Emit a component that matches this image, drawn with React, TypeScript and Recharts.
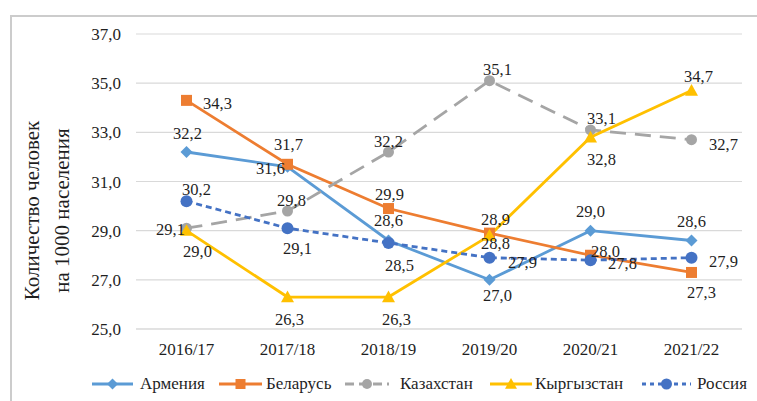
import React from "react";
import { CartesianGrid, LabelList, Legend, Line, LineChart, XAxis, YAxis } from "recharts";

const years = ["2016/17", "2017/18", "2018/19", "2019/20", "2020/21", "2021/22"];
const armenia = [32.2, 31.6, 28.6, 27.0, 29.0, 28.6];
const belarus = [34.3, 31.7, 29.9, 28.9, 28.0, 27.3];
const kazakhstan = [29.1, 29.8, 32.2, 35.1, 33.1, 32.7];
const kyrgyzstan = [29.0, 26.3, 26.3, 28.8, 32.8, 34.7];
const russia = [30.2, 29.1, 28.5, 27.9, 27.8, 27.9];
const yTicks = [25, 27, 29, 31, 33, 35, 37];

const data = years.map((year, i) => ({
  year,
  arm: armenia[i],
  bel: belarus[i],
  kaz: kazakhstan[i],
  kyr: kyrgyzstan[i],
  rus: russia[i],
}));

type Shape = "diamond" | "square" | "circle" | "triangle";

// label offsets (centre of text relative to the point) and legend slots, picked to match the original
const SERIES: {
  key: string;
  name: string;
  color: string;
  dash?: string;
  shape: Shape;
  r: number;
  offsets: [number, number][];
  legend: [number, number, number]; // icon left, icon width, text left
}[] = [
  { key: "arm", name: "Армения", color: "#5b9bd5", shape: "diamond", r: 6,
    offsets: [[1, -19], [-17, 2], [0, -20], [8, 16], [0, -19], [0, -19]], legend: [92, 41, 140] },
  { key: "bel", name: "Беларусь", color: "#ed7d31", shape: "square", r: 5.5,
    offsets: [[31, 3], [1, -20], [1, -14], [6, -14], [15, -4], [10, 20]], legend: [219, 43, 266] },
  { key: "kaz", name: "Казахстан", color: "#a5a5a5", dash: "16 9", shape: "circle", r: 5.5,
    offsets: [[-16, 1], [4, -11], [0, -11], [8, -11], [11, -11], [32, 5]], legend: [345, 44, 400] },
  { key: "kyr", name: "Кыргызстан", color: "#ffc000", shape: "triangle", r: 6.5,
    offsets: [[11, 21], [2, 22], [8, 22], [6, 8], [11, 22], [7, -14]], legend: [490, 42, 535] },
  { key: "rus", name: "Россия", color: "#4472c4", dash: "6 4", shape: "circle", r: 6,
    offsets: [[10, -12], [10, 20], [11, 23], [33, 5], [32, 3], [32, 4]], legend: [642, 49, 697] },
];

const FONT = "Liberation Serif";
const TEXT = "#1f1f1f";
const fmt = (v: number) => v.toFixed(1).replace(".", ",");

function Marker({ shape, cx, cy, r, color }: { shape: Shape; cx: number; cy: number; r: number; color: string }) {
  if (shape === "diamond")
    return <polygon points={`${cx},${cy - r} ${cx + r},${cy} ${cx},${cy + r} ${cx - r},${cy}`} fill={color} />;
  if (shape === "square") return <rect x={cx - r} y={cy - r} width={r * 2} height={r * 2} fill={color} />;
  if (shape === "triangle")
    return <polygon points={`${cx},${cy - r} ${cx + r},${cy + r * 0.8} ${cx - r},${cy + r * 0.8}`} fill={color} />;
  return <circle cx={cx} cy={cy} r={r} fill={color} />;
}

function YTitle({ viewBox }: any) {
  const cy = viewBox.y + viewBox.height / 2 + 29;
  return (
    <g fontFamily={FONT} fontSize={21} fill={TEXT}>
      <text x={viewBox.x + 32} y={cy} transform={`rotate(-90 ${viewBox.x + 32} ${cy})`} textAnchor="middle" dominantBaseline="central">
        Количество человек
      </text>
      <text x={viewBox.x + 62} y={cy} transform={`rotate(-90 ${viewBox.x + 62} ${cy})`} textAnchor="middle" dominantBaseline="central">
        на 1000 населения
      </text>
    </g>
  );
}

function LegendBox() {
  return (
    <div style={{ position: "relative", height: 42, fontFamily: FONT, fontSize: 17, color: TEXT }}>
      {SERIES.map((s) => {
        const [iconLeft, iconW, textLeft] = s.legend;
        return (
          <React.Fragment key={s.key}>
            <svg width={iconW} height={14} style={{ position: "absolute", left: iconLeft, top: 18 }}>
              <line x1={0} y1={7} x2={iconW} y2={7} stroke={s.color} strokeWidth={3} strokeDasharray={s.dash ? (s.key === "rus" ? "4 4" : "9 5") : undefined} />
              <Marker shape={s.shape} cx={iconW / 2} cy={7} r={s.r - 0.5} color={s.color} />
            </svg>
            <span style={{ position: "absolute", left: textLeft, top: 15, whiteSpace: "nowrap", lineHeight: "20px" }}>{s.name}</span>
          </React.Fragment>
        );
      })}
    </div>
  );
}

const tickStyle = { fontSize: 17, fill: TEXT, fontFamily: FONT };

export default function App() {
  return (
    <div style={{ position: "absolute", left: 0, top: 0, width: 757, height: 401, background: "#fff", fontFamily: FONT }}>
      <div
        style={{
          position: "absolute",
          left: 10,
          top: 15,
          width: 747,
          height: 386,
          borderTop: "2px solid #cccccc",
          borderLeft: "2px solid #cccccc",
          boxSizing: "border-box",
        }}
      />
      <div style={{ position: "absolute", left: 0, top: 0 }}>
        <LineChart width={757} height={401} data={data} margin={{ top: 34, right: 15, left: 0, bottom: 0 }}>
          <CartesianGrid vertical={false} stroke="#d9d9d9" strokeWidth={1.2} />
          <XAxis
            dataKey="year"
            padding={{ left: 50.5, right: 50.5 }}
            axisLine={{ stroke: "#d9d9d9" }}
            tickLine={false}
            tickSize={0}
            tickMargin={14}
            height={30}
            tick={tickStyle}
          />
          <YAxis
            width={136}
            domain={[25, 37]}
            ticks={yTicks}
            axisLine={false}
            tickLine={false}
            tickSize={0}
            tickMargin={15}
            tickFormatter={fmt}
            tick={tickStyle}
            label={<YTitle />}
          />
          <Legend verticalAlign="bottom" height={42} content={<LegendBox />} wrapperStyle={{ left: 0, width: 757 }} />
          {SERIES.map((s) => (
            <Line
              key={s.key}
              dataKey={s.key}
              name={s.name}
              type="linear"
              stroke={s.color}
              strokeWidth={2.8}
              strokeDasharray={s.dash}
              isAnimationActive={false}
              dot={(p: any) => <Marker key={`${s.key}-${p.index}`} shape={s.shape} cx={p.cx} cy={p.cy} r={s.r} color={s.color} />}
              activeDot={false}
            >
              <LabelList
                dataKey={s.key}
                content={(p: any) => {
                  const [dx, dy] = s.offsets[p.index] || [0, -18];
                  return (
                    <text
                      x={p.x + dx}
                      y={p.y + dy}
                      textAnchor="middle"
                      dominantBaseline="central"
                      fontFamily={FONT}
                      fontSize={16.5}
                      fill={TEXT}
                    >
                      {fmt(p.value)}
                    </text>
                  );
                }}
              />
            </Line>
          ))}
        </LineChart>
      </div>
    </div>
  );
}
